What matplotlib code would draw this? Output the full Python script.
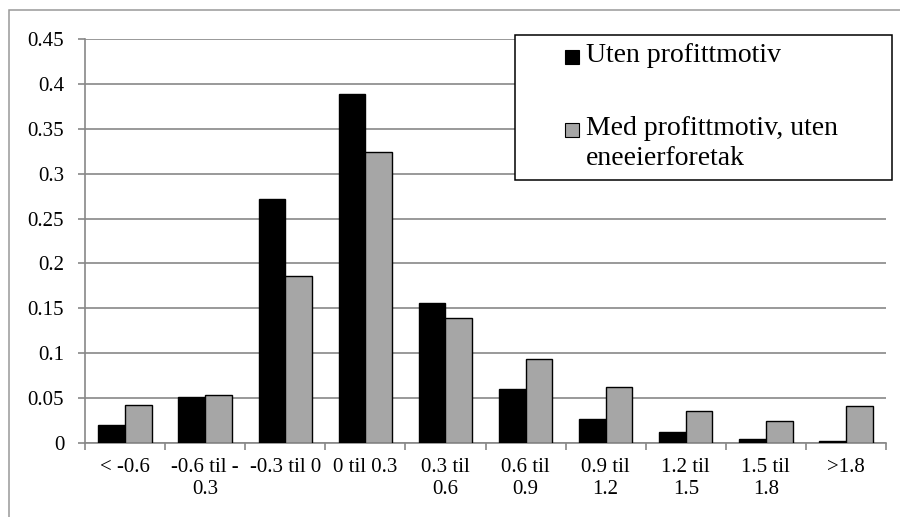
import numpy as np
import matplotlib
matplotlib.use('Agg')
import matplotlib.pyplot as plt
from matplotlib.patches import Rectangle

# data
categories = ['< -0.6', '-0.6 til -\n0.3', '-0.3 til 0', '0 til 0.3', '0.3 til\n0.6',
              '0.6 til\n0.9', '0.9 til\n1.2', '1.2 til\n1.5', '1.5 til\n1.8', '>1.8']
uten_profitt = [0.020, 0.0515, 0.272, 0.389, 0.156, 0.060, 0.027, 0.0125, 0.005, 0.002]
med_profitt = [0.042, 0.053, 0.186, 0.324, 0.139, 0.094, 0.062, 0.0355, 0.024, 0.041]
series_names = ['Uten profittmotiv', 'Med profittmotiv, uten\neneeierforetak']
yticks = [0, 0.05, 0.1, 0.15, 0.2, 0.25, 0.3, 0.35, 0.4, 0.45]
ytick_labels = ['0', '0.05', '0.1', '0.15', '0.2', '0.25', '0.3', '0.35', '0.4', '0.45']

plt.rcParams['font.family'] = ['Liberation Serif', 'DejaVu Serif']
grid_col = '#878787'
grey_fill = '#a6a6a6'

fig = plt.figure(figsize=(9, 5.17), dpi=100)
ax = fig.add_axes([85 / 900, 1 - 443 / 517, (886 - 85) / 900, (443 - 39) / 517])

x = np.arange(len(categories))
w = 1 / 3
ax.bar(x - w / 2, uten_profitt, width=w, color='black', edgecolor='black', linewidth=1.0, zorder=3)
ax.bar(x + w / 2, med_profitt, width=w, color=grey_fill, edgecolor='black', linewidth=1.0, zorder=3)

ax.set_xlim(-0.5, len(categories) - 0.5)
ax.set_ylim(0, 0.45)
ax.set_yticks(yticks)
ax.set_yticklabels(ytick_labels)
ax.yaxis.grid(True, color=grid_col, linewidth=1.2, zorder=0)
ax.set_axisbelow(True)

ax.set_xticks(x)
ax.set_xticklabels(categories, linespacing=1.2)
ax.set_xticks(np.arange(len(categories) + 1) - 0.5, minor=True)
ax.tick_params(axis='x', which='major', length=0, pad=11, labelsize=15)
ax.tick_params(axis='x', which='minor', length=5, width=1.2, color=grid_col)
ax.tick_params(axis='y', length=5, width=1.2, color=grid_col, pad=10, labelsize=15)

for s in ['top', 'right']:
    ax.spines[s].set_visible(False)
for s in ['left', 'bottom']:
    ax.spines[s].set_color(grid_col)
    ax.spines[s].set_linewidth(1.2)

# outer chart border
fig.patches.append(Rectangle((9 / 900, -0.2), 1.2, 1.2 - 10 / 517, transform=fig.transFigure,
                             fill=False, edgecolor='#999999', linewidth=1.1))

# legend box
fig.patches.append(Rectangle((515 / 900, 1 - 180 / 517), (892 - 515) / 900, 145 / 517,
                             transform=fig.transFigure, facecolor='white', edgecolor='black',
                             linewidth=1.1, zorder=5))
for yy, col, name in [(57, 'black', series_names[0]), (130, grey_fill, series_names[1])]:
    fig.patches.append(Rectangle((565 / 900, 1 - (yy + 7) / 517), 14 / 900, 14 / 517,
                                 transform=fig.transFigure, facecolor=col, edgecolor='black',
                                 linewidth=0.8, zorder=6))
    fig.text(586 / 900, 1 - (yy - 14) / 517, name, fontsize=20, va='top', ha='left',
             linespacing=1.25, zorder=6)

fig.savefig('out.png', dpi=100)
